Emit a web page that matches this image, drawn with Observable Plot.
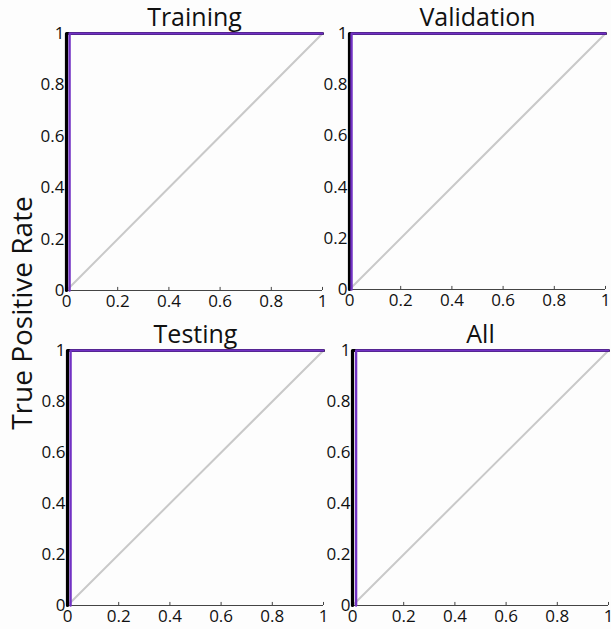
<!DOCTYPE html>
<html>
<head>
<meta charset="utf-8">
<script src="https://cdn.jsdelivr.net/npm/d3@7"></script>
<script src="https://cdn.jsdelivr.net/npm/@observablehq/plot@0.6"></script>
<style>
  html, body { margin: 0; padding: 0; background: #ffffff; overflow: hidden; }
  #wrap { position: relative; width: 611px; height: 629px; overflow: hidden; background: #fdfdfd; font-family: "Open Sans", sans-serif; }
  .panel { position: absolute; }
  #ylab { position: absolute; left: 21px; top: 313px; transform: translate(-50%, -50%) rotate(-90deg); white-space: nowrap; font-size: 28px; color: #111; line-height: 1.3; }
</style>
</head>
<body>
<div id="wrap">
  <div id="ylab">True Positive Rate</div>
</div>
<script>
// Panel titles
const panelTitles = ["Training", "Validation", "Testing", "All"];
// Tick values shared by both axes
const tickValues = [0, 0.2, 0.4, 0.6, 0.8, 1];
// Class 1 ROC curve (black) – identical in all panels
const class1FPR = [0, 0, 1];
const class1TPR = [0, 1, 1];
// Class 2 ROC curve (purple), false positive rate per panel
const class2FPR = {
  Training:   [0.012, 0.012, 1],
  Validation: [0.008, 0.008, 1],
  Testing:    [0.012, 0.012, 1],
  All:        [0.014, 0.014, 1]
};
const class2TPR = [0, 1, 1];
// Chance diagonal
const chanceFPR = [0, 1];
const chanceTPR = [0, 1];

const layout = {
  Training:   {left: 36,  top: 0,   h: 257},
  Validation: {left: 319, top: 0,   h: 256},
  Testing:    {left: 37,  top: 317, h: 255},
  All:        {left: 322, top: 317, h: 255}
};

const wrap = document.getElementById("wrap");
const fmt = d => `${d}`;

for (const name of panelTitles) {
  const L = layout[name];
  const c1 = class1FPR.map((x, i) => ({x, y: class1TPR[i]}));
  const c2 = class2FPR[name].map((x, i) => ({x, y: class2TPR[i]}));
  const diag = chanceFPR.map((x, i) => ({x, y: chanceTPR[i]}));
  const chart = Plot.plot({
    width: 30 + 256 + 8,
    height: 33 + L.h + 26,
    marginLeft: 30,
    marginRight: 8,
    marginTop: 33,
    marginBottom: 26,
    style: {fontFamily: "'Open Sans', sans-serif", background: "transparent", color: "#111", overflow: "visible"},
    x: {domain: [0, 1], axis: null},
    y: {domain: [0, 1], axis: null},
    marks: [
      Plot.line(diag, {x: "x", y: "y", stroke: "#c9c9c9", strokeWidth: 2}),
      Plot.ruleY([0], {stroke: "#444", strokeWidth: 1.2}),
      Plot.ruleX(tickValues, {x: d => d, y1: 0, y2: 0.012, stroke: "#444", strokeWidth: 1}),
      Plot.line(c1, {x: "x", y: "y", stroke: "#000", strokeWidth: 3.2}),
      Plot.line(c2, {x: "x", y: "y", stroke: "#7232c4", strokeWidth: 2.4}),
      // x tick labels
      Plot.text(tickValues, {x: d => d, y: () => 0, text: fmt, lineAnchor: "top", dy: 4, fontSize: 17, fill: "#111"}),
      // y tick labels
      Plot.text(tickValues, {y: d => d, x: () => 0, text: fmt, textAnchor: "end", dx: -2, fontSize: 17, fill: "#111"}),
      Plot.text([name], {frameAnchor: "top", lineAnchor: "bottom", dy: -8, fontSize: 25, fill: "#111"})
    ]
  });
  chart.classList.add("panel");
  chart.style.left = L.left + "px";
  chart.style.top = L.top + "px";
  wrap.appendChild(chart);
}
</script>
</body>
</html>
